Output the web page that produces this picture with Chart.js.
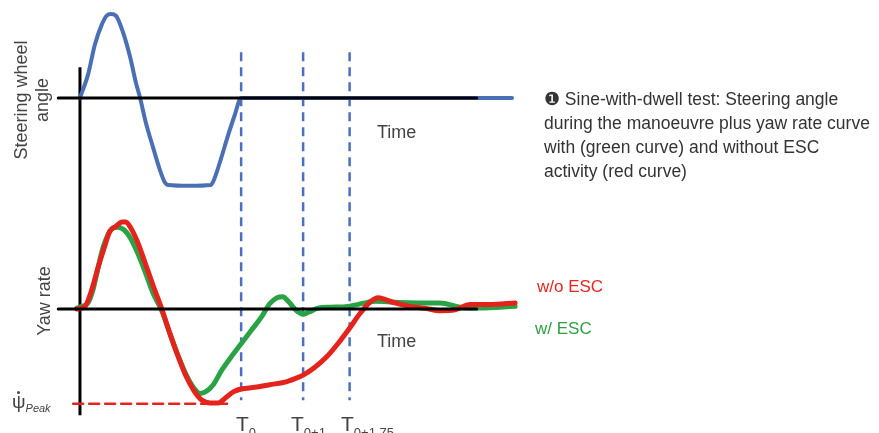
<!DOCTYPE html>
<html>
<head>
<meta charset="utf-8">
<script src="https://cdn.jsdelivr.net/npm/chart.js@4"></script>
<style>
  html, body { margin: 0; padding: 0; background: #fff; }
  #wrap { position: relative; width: 879px; height: 433px; overflow: hidden; font-family: "Liberation Sans", Arial, sans-serif; }
  #chart { position: absolute; left: 0; top: 0; }
  .lbl { position: absolute; color: #444; font-size: 18px; white-space: nowrap; }
  .rot { transform: translate(-50%, -50%) rotate(-90deg); text-align: center; line-height: 21px; }
  .caption { position: absolute; left: 544px; top: 87px; font-size: 17.5px; line-height: 24px; color: #333; white-space: nowrap; }
  .tl { position: absolute; top: 412px; font-size: 21px; color: #444; }
  .tl sub { font-size: 13px; vertical-align: -6px; }
  .dot { position: absolute; left: 17px; top: 391px; width: 3px; height: 3px; border-radius: 50%; background: #444; }
</style>
</head>
<body>
<div id="wrap">
  <canvas id="chart" width="879" height="433"></canvas>
  <div class="lbl rot" style="left:32px; top:100px;">Steering wheel<br>angle</div>
  <div class="lbl rot" style="left:44px; top:301px;">Yaw rate</div>
  <div class="lbl" style="left:377px; top:122px;">Time</div>
  <div class="lbl" style="left:377px; top:331px;">Time</div>
  <div class="lbl" style="left:537px; top:277px; color:#e5271f; font-size:17px;">w/o ESC</div>
  <div class="lbl" style="left:535px; top:319px; color:#2e9e46; font-size:17px;">w/ ESC</div>
  <div class="lbl" style="left:12px; top:391px; font-size:19px;">ψ<span style="font-size:11px; font-style:italic; position:relative; top:4px;">Peak</span></div>
  <div class="dot"></div>
  <div class="tl" style="left:236px;">T<sub>0</sub></div>
  <div class="tl" style="left:291px;">T<sub>0+1</sub></div>
  <div class="tl" style="left:341px;">T<sub>0+1.75</sub></div>
  <div class="caption">❶ Sine-with-dwell test: Steering angle<br>during the manoeuvre plus yaw rate curve<br>with (green curve) and without ESC<br>activity (red curve)</div>
</div>
<script>
// time in seconds, steering angle and yaw rate normalised to their first peak
const steerTime  = [0, 0.13, 0.24, 0.35, 0.43, 0.50, 0.58, 0.69, 0.81, 0.90, 0.97, 1.06, 1.18, 1.29, 1.37, 1.42, 1.77, 2.11, 2.16, 2.26, 2.39, 2.50, 2.60, 6.97];
const steerAngle = [0, 0.28, 0.64, 0.88, 0.99, 1.01, 0.99, 0.80, 0.49, 0.19, 0, -0.29, -0.60, -0.87, -1.02, -1.05, -1.06, -1.05, -0.99, -0.77, -0.45, -0.20, 0, 0];

const escTime = [-0.05, 0.03, 0.13, 0.21, 0.29, 0.37, 0.45, 0.53, 0.61, 0.71, 0.81, 0.92, 1.05, 1.18, 1.32, 1.45, 1.58, 1.71, 1.84, 1.94, 2.03, 2.15, 2.29, 2.45, 2.60, 2.77, 2.94, 3.06, 3.18, 3.27, 3.37, 3.48, 3.60, 3.71, 3.84, 4.03, 4.32, 4.60, 4.77, 5.00, 5.48, 5.81, 6.13, 6.45, 7.02];
const yawWithEsc = [0.01, 0.03, 0.07, 0.22, 0.47, 0.70, 0.85, 0.93, 0.94, 0.91, 0.82, 0.66, 0.43, 0.18, -0.02, -0.28, -0.53, -0.75, -0.91, -0.97, -0.95, -0.87, -0.70, -0.54, -0.40, -0.24, -0.08, 0.06, 0.13, 0.14, 0.08, -0.01, -0.06, -0.03, 0.01, 0.02, 0.03, 0.07, 0.09, 0.08, 0.07, 0.07, 0.02, 0.01, 0.03];

const noEscTime = [-0.05, 0.08, 0.19, 0.29, 0.39, 0.48, 0.58, 0.68, 0.74, 0.82, 0.94, 1.06, 1.19, 1.32, 1.45, 1.58, 1.71, 1.84, 1.97, 2.10, 2.23, 2.35, 2.48, 2.60, 2.82, 3.06, 3.31, 3.47, 3.60, 3.79, 3.98, 4.16, 4.34, 4.52, 4.68, 4.81, 4.92, 5.08, 5.32, 5.56, 5.81, 6.05, 6.29, 6.61, 7.02];
const yawWithoutEsc = [0, 0.03, 0.22, 0.47, 0.70, 0.89, 0.95, 1.0, 1.0, 0.93, 0.75, 0.51, 0.25, 0, -0.28, -0.54, -0.77, -0.94, -1.05, -1.08, -1.08, -1.02, -0.95, -0.92, -0.90, -0.87, -0.84, -0.80, -0.76, -0.67, -0.55, -0.40, -0.23, -0.05, 0.08, 0.13, 0.11, 0.07, 0.03, 0.01, -0.02, -0.01, 0.05, 0.05, 0.07];

const yawPeak = -1.09;
const peakSpan = [-0.11, 2.40];
const axisSpan = [-0.35, 6.40];
const markers = [2.6, 3.6, 4.35];   // T0, T0+1, T0+1.75

const pts = (xs, ys) => xs.map((x, i) => ({ x: x, y: ys[i] }));

const frame = {
  id: 'frame',
  beforeDatasetsDraw(chart) {
    const { ctx, scales } = chart;
    const x = scales.x, s = scales.steer, r = scales.yaw;
    ctx.save();
    // vertical axis
    ctx.strokeStyle = '#000';
    ctx.lineWidth = 3;
    ctx.beginPath();
    ctx.moveTo(x.getPixelForValue(0), s.getPixelForValue(0.37));
    ctx.lineTo(x.getPixelForValue(0), r.getPixelForValue(-1.22));
    ctx.stroke();
    // time markers
    ctx.strokeStyle = '#4a70bf';
    ctx.lineWidth = 2.5;
    ctx.setLineDash([9, 6]);
    markers.forEach(m => {
      const px = x.getPixelForValue(m);
      ctx.beginPath();
      ctx.moveTo(px, s.getPixelForValue(0.55));
      ctx.lineTo(px, r.getPixelForValue(-1.05));
      ctx.stroke();
    });
    ctx.restore();
  }
};

new Chart(document.getElementById('chart'), {
  type: 'line',
  data: {
    datasets: [
      { data: pts(axisSpan, [0, 0]), yAxisID: 'steer', borderColor: '#000', borderWidth: 3 },
      { data: pts(axisSpan, [0, 0]), yAxisID: 'yaw', borderColor: '#000', borderWidth: 3 },
      { data: pts(peakSpan, [yawPeak, yawPeak]), yAxisID: 'yaw', borderColor: '#e5231d', borderWidth: 2.5, borderDash: [10, 6] },
      { data: pts(steerTime, steerAngle), yAxisID: 'steer', borderColor: '#4a6fb5', borderWidth: 4, cubicInterpolationMode: 'monotone' },
      { data: pts(noEscTime, yawWithoutEsc), yAxisID: 'yaw', borderColor: '#e5231d', borderWidth: 5, cubicInterpolationMode: 'monotone' },
      { data: pts(escTime, yawWithEsc), yAxisID: 'yaw', borderColor: '#2aa346', borderWidth: 5, cubicInterpolationMode: 'monotone' }
    ]
  },
  options: {
    responsive: false,
    animation: false,
    layout: { padding: 0 },
    elements: { point: { radius: 0 }, line: { borderCapStyle: 'round', borderJoinStyle: 'round' } },
    plugins: { legend: { display: false }, tooltip: { enabled: false } },
    scales: {
      x: { type: 'linear', display: false, min: -1.29, max: 12.89 },
      steer: { type: 'linear', display: false, min: -4.04, max: 1.18 },
      yaw: { type: 'linear', display: false, min: -1.425, max: 3.55 }
    }
  },
  plugins: [frame]
});
</script>
</body>
</html>
